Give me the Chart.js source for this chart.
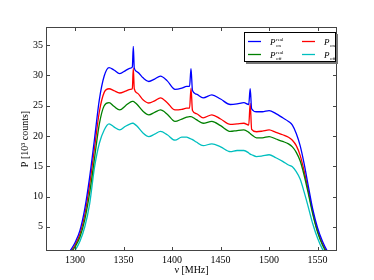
<!DOCTYPE html>
<html>
<head>
<meta charset="utf-8">
<script src="https://cdn.jsdelivr.net/npm/chart.js@4.4.0/dist/chart.umd.min.js"></script>
<style>
  html, body { margin: 0; padding: 0; background: #fff; }
  #wrap { width: 374px; height: 280px; }
</style>
</head>
<body>
<div id="wrap"><canvas id="chart" width="374" height="280"></canvas></div>
<script>
// frequency samples (MHz)
var freq = [1292, 1296, 1300, 1305, 1310, 1315, 1320, 1325, 1330, 1335, 1340, 1346, 1352, 1357, 1359, 1360, 1361,
            1364, 1370, 1376, 1382, 1388, 1395, 1403, 1410, 1415, 1418, 1419.5, 1421, 1425, 1432, 1441, 1450,
            1460, 1467, 1474, 1479, 1480.5, 1482, 1487, 1493, 1500, 1507, 1514, 1520, 1524, 1528, 1532, 1536,
            1540, 1545, 1550, 1555, 1560, 1565];

// power, 10^3 counts
var pOnReal = [0.4, 1.3, 2.4, 4.4, 8.0, 13.2, 19.5, 26.0, 29.9, 31.3, 30.9, 30.3, 30.8, 31.2, 31.4, 34.8, 31.2,
               30.6, 29.6, 29.0, 29.4, 29.9, 29.1, 27.7, 27.9, 28.2, 28.2, 31.1, 27.5, 26.9, 26.3, 26.8, 26.1,
               25.2, 25.3, 25.5, 25.2, 27.8, 24.5, 24.0, 24.0, 24.2, 23.7, 23.0, 22.4, 21.8, 20.4, 18.4, 15.5,
               12.1, 7.9, 4.8, 2.6, 1.0, 0.0];
var pOffReal = [0.0, 0.8, 1.7, 3.3, 6.2, 10.6, 16.3, 22.0, 25.0, 25.5, 24.9, 24.3, 25.0, 25.6, 25.7, 25.7, 25.6,
                25.2, 24.1, 23.5, 23.9, 24.3, 23.6, 22.4, 22.8, 23.1, 23.2, 23.2, 23.1, 22.7, 22.1, 22.4, 21.7,
                20.75, 20.9, 21.0, 20.6, 20.4, 20.2, 19.7, 19.7, 19.9, 19.5, 19.1, 18.7, 18.2, 17.3, 15.9, 13.6,
                10.8, 7.1, 4.1, 2.0, 0.6, 0.0];
var pOn = [0.2, 1.0, 2.0, 3.8, 7.0, 12.0, 18.0, 24.0, 27.2, 27.8, 27.5, 27.1, 27.4, 27.7, 27.8, 31.2, 27.8,
           27.1, 26.0, 25.45, 25.8, 26.3, 25.5, 24.3, 24.4, 24.6, 24.6, 27.9, 24.2, 23.7, 23.0, 23.5, 22.8,
           21.9, 22.0, 22.1, 21.8, 25.4, 21.1, 20.7, 20.8, 21.0, 20.6, 20.2, 19.8, 19.3, 18.4, 16.8, 14.3,
           11.3, 7.4, 4.3, 2.2, 0.8, 0.0];
var pOff = [-0.5, 0.3, 1.1, 2.6, 5.0, 8.8, 14.8, 18.8, 21.0, 22.0, 21.5, 21.0, 21.6, 22.0, 22.1, 22.1, 22.0,
            21.6, 20.5, 19.9, 20.3, 20.75, 20.2, 19.3, 19.8, 19.8, 19.6, 19.5, 19.4, 19.0, 18.4, 18.7, 18.2,
            17.4, 17.6, 17.6, 17.2, 17.0, 16.9, 16.6, 16.7, 16.9, 16.4, 15.8, 15.2, 14.9, 14.1, 12.9, 10.8,
            8.5, 5.5, 3.1, 1.3, 0.2, -0.5];

var xTicks = [1300, 1350, 1400, 1450, 1500, 1550];
var yTicks = [5, 10, 15, 20, 25, 30, 35];

// legend labels: P with superscript / subscript
var seriesLabels = [
    { sup: 'real', sub: 'on' },
    { sup: 'real', sub: 'off' },
    { sup: '', sub: 'on' },
    { sup: '', sub: 'off' }
];
var seriesColors = ['#0000ff', '#008000', '#ff0000', '#00bfbf'];
var seriesData = [pOnReal, pOffReal, pOn, pOff];

var serif = '"Liberation Serif", "DejaVu Serif", serif';

function toPoints(values) {
    return freq.map(function(f, i) { return { x: f, y: values[i] }; });
}

var framePlugin = {
    id: 'frame',
    afterDraw: function(chart) {
        var ctx = chart.ctx,
            a = chart.chartArea,
            xs = chart.scales.x,
            ys = chart.scales.y;

        ctx.save();
        ctx.strokeStyle = '#444';
        ctx.lineWidth = 1;
        ctx.strokeRect(a.left + 0.5, a.top + 0.5, a.right - a.left - 1, a.bottom - a.top - 1);

        // inward tick marks on all four sides
        ctx.beginPath();
        xTicks.forEach(function(v) {
            var px = Math.round(xs.getPixelForValue(v)) + 0.5;
            ctx.moveTo(px, a.bottom); ctx.lineTo(px, a.bottom - 4);
            ctx.moveTo(px, a.top); ctx.lineTo(px, a.top + 4);
        });
        yTicks.forEach(function(v) {
            var py = Math.round(ys.getPixelForValue(v)) + 0.5;
            ctx.moveTo(a.left, py); ctx.lineTo(a.left + 4, py);
            ctx.moveTo(a.right, py); ctx.lineTo(a.right - 4, py);
        });
        ctx.stroke();

        // legend box with shadow
        var bw = 91, bh = 29,
            bx = a.right - 93, by = a.top + 5;
        ctx.fillStyle = '#777';
        ctx.fillRect(bx + 2, by + 2, bw + 1, bh + 1);
        ctx.fillStyle = '#fff';
        ctx.fillRect(bx, by, bw, bh);
        ctx.strokeStyle = '#000';
        ctx.strokeRect(bx + 0.5, by + 0.5, bw, bh);

        seriesLabels.forEach(function(lab, i) {
            var col = Math.floor(i / 2), row = i % 2;
            var lx = bx + 4 + col * 54,
                ly = by + 9.5 + row * 13;
            ctx.strokeStyle = seriesColors[i];
            ctx.lineWidth = 1.3;
            ctx.beginPath();
            ctx.moveTo(lx, ly); ctx.lineTo(lx + 13, ly);
            ctx.stroke();

            var tx = lx + 22;
            ctx.fillStyle = '#000';
            ctx.textBaseline = 'alphabetic';
            ctx.textAlign = 'left';
            ctx.font = 'italic 9px ' + serif;
            ctx.fillText('P', tx, ly + 3);
            ctx.font = '5px ' + serif;
            if (lab.sup) ctx.fillText(lab.sup, tx + 6, ly - 1);
            ctx.fillText(lab.sub, tx + 6, ly + 5);
        });
        ctx.restore();
    }
};

var datasets = seriesData.map(function(values, i) {
    return {
        data: toPoints(values),
        borderColor: seriesColors[i],
        backgroundColor: seriesColors[i],
        borderWidth: 1.3,
        pointRadius: 0,
        fill: false,
        cubicInterpolationMode: 'monotone'
    };
});

new Chart(document.getElementById('chart').getContext('2d'), {
    type: 'line',
    data: { datasets: datasets },
    options: {
        responsive: false,
        animation: false,
        devicePixelRatio: 1,
        layout: { padding: { top: 27, right: 37, left: 0, bottom: 0 } },
        plugins: {
            legend: { display: false },
            tooltip: { enabled: false }
        },
        scales: {
            x: {
                type: 'linear',
                min: 1270,
                max: 1570,
                afterBuildTicks: function(s) { s.ticks = xTicks.map(function(v) { return { value: v }; }); },
                afterFit: function(s) { s.height = 29; },
                grid: { display: false, drawTicks: false },
                border: { display: false },
                ticks: {
                    color: '#000',
                    padding: 3,
                    autoSkip: false,
                    maxRotation: 0,
                    font: { family: serif, size: 10 },
                    callback: function(v) { return String(v); }
                },
                title: {
                    display: true,
                    text: 'ν [MHz]',
                    color: '#000',
                    font: { family: serif, size: 10 },
                    padding: { top: 0, bottom: 4 }
                }
            },
            y: {
                type: 'linear',
                min: 1,
                max: 38,
                afterBuildTicks: function(s) { s.ticks = yTicks.map(function(v) { return { value: v }; }); },
                afterFit: function(s) { s.width = 46; },
                grid: { display: false, drawTicks: false },
                border: { display: false },
                ticks: {
                    color: '#000',
                    padding: 3,
                    font: { family: serif, size: 10 },
                    callback: function(v) { return String(v); }
                },
                title: {
                    display: true,
                    text: 'P [10³ counts]',
                    color: '#000',
                    font: { family: serif, size: 10 },
                    padding: { top: 19, bottom: 0 }
                }
            }
        }
    },
    plugins: [framePlugin]
});
</script>
</body>
</html>
